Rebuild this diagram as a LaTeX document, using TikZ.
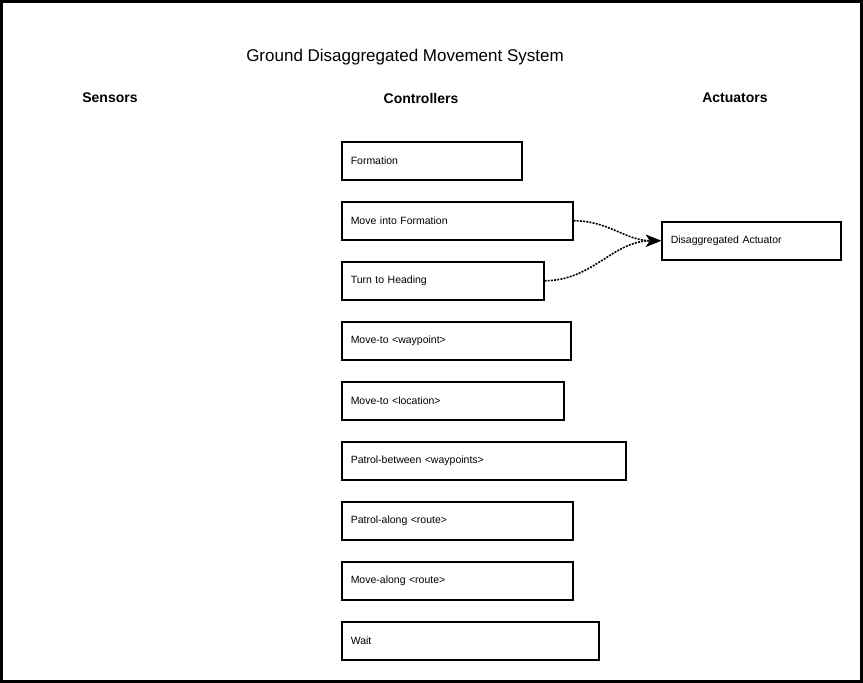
\documentclass[tikz,border=0pt]{standalone}
\usepackage{fontspec}
\setmainfont{Liberation Sans}
\usetikzlibrary{arrows.meta}
\tikzset{
        ctrl/.style={draw,line width=1.5pt,anchor=north west,minimum height=38pt,
            inner xsep=9pt,inner ysep=0pt,align=left,font=\fontsize{10.5}{12}\selectfont},
        colhead/.style={font=\fontsize{14}{16}\selectfont\bfseries},
        fil/.style={draw,dash pattern=on 2pt off 1.2pt,line width=1.6pt,
            -{Stealth[length=15pt,width=12pt,inset=4pt]}},
    }
\begin{document}
\begin{tikzpicture}[x=1pt,y=-1pt]
 \useasboundingbox (0,0) rectangle (863,683);
 \draw[line width=2.5pt] (1.25,1.25) rectangle (861.5,681.5);
 \node[font=\fontsize{17}{20}\selectfont] (@title) at (405,57) {Ground Disaggregated Movement System};
 \node[colhead] (@sens) at (110,98) {Sensors};
 \node[colhead] (@ctrl) at (421,98) {Controllers};
 \node[colhead] (@actu) at (735,98) {Actuators};
          %controllers
 \node[ctrl,text width=162pt] (@form) at (341,141) {Formation};
 \node[ctrl,text width=213pt] (@moveform) at (341,201) {Move into Formation};
 \node[ctrl,text width=184pt] (@turn) at (341,261) {Turn to Heading};
 \node[ctrl,text width=211pt] (@waypt) at (341,321) {Move-to <waypoint>};
 \node[ctrl,text width=204pt] (@loc) at (341,381) {Move-to <location>};
 \node[ctrl,text width=266pt] (@patrolb) at (341,441) {Patrol-between <waypoints>};
 \node[ctrl,text width=213pt] (@patrola) at (341,501) {Patrol-along <route>};
 \node[ctrl,text width=213pt] (@movealong) at (341,561) {Move-along <route>};
 \node[ctrl,text width=239pt] (@wait) at (341,621) {Wait};
          %actuators
 \node[ctrl,text width=161pt] (@act) at (661,221) {Disaggregated Actuator};
 \draw[fil] (@moveform.east) to[out=0,in=180] (@act.west);
 \draw[fil] (@turn.east) to[out=0,in=180] (@act.west);
\end{tikzpicture}
\end{document}
